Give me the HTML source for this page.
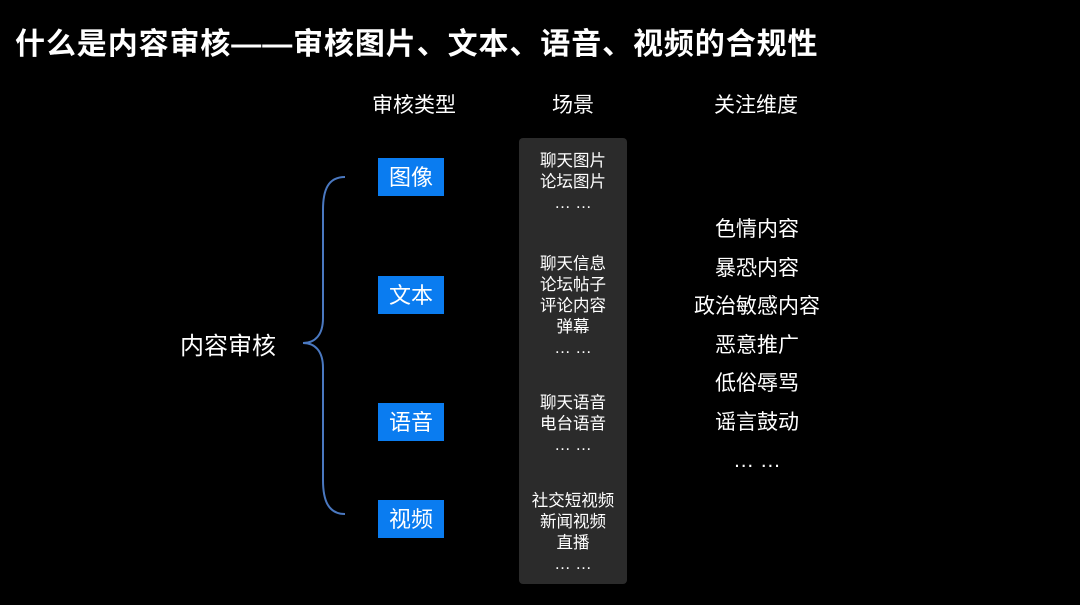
<!DOCTYPE html>
<html><head><meta charset="utf-8"><style>
body{margin:0;width:1080px;height:605px;background:#000;overflow:hidden;position:relative;font-family:"Liberation Sans","Noto Sans CJK SC",sans-serif;color:#fff}
.a{position:absolute;white-space:nowrap}
.t{left:15px;top:19px;font-size:30px;font-weight:bold;letter-spacing:0.9px}
.h{font-size:21px;top:89px}
.b{position:absolute;left:378px;width:66px;height:38px;background:#0a7cf0;font-size:22px;text-align:center;line-height:40px}
.p{position:absolute;left:519px;top:138px;width:108px;height:446px;background:#2b2b2b;border-radius:4px}
.s{position:absolute;left:519px;width:108px;text-align:center;font-size:16.5px;line-height:21px}
.r{position:absolute;left:657px;width:200px;text-align:center;font-size:21px;line-height:38.5px;top:211px}
</style></head><body>
<div class="a t">什么是内容审核——审核图片、文本、语音、视频的合规性</div>
<div class="a h" style="left:372px">审核类型</div>
<div class="a h" style="left:552px">场景</div>
<div class="a h" style="left:714px">关注维度</div>
<div class="a" style="left:180px;top:326px;font-size:24px">内容审核</div>
<svg class="a" style="left:0;top:0" width="1080" height="605"><path d="M345 177 C328 177 323 190 323 210 L323 318 C323 335 315 343 303 343 C315 343 323 351 323 368 L323 480 C323 500 328 514 345 514" fill="none" stroke="#4a78c0" stroke-width="2"/></svg>
<div class="b" style="top:158px">图像</div>
<div class="b" style="top:276px">文本</div>
<div class="b" style="top:403px">语音</div>
<div class="b" style="top:500px">视频</div>
<div class="p"></div>
<div class="s" style="top:151px">聊天图片<br>论坛图片<br>… …</div>
<div class="s" style="top:254px">聊天信息<br>论坛帖子<br>评论内容<br>弹幕<br>… …</div>
<div class="s" style="top:393px">聊天语音<br>电台语音<br>… …</div>
<div class="s" style="top:491px">社交短视频<br>新闻视频<br>直播<br>… …</div>
<div class="r">色情内容<br>暴恐内容<br>政治敏感内容<br>恶意推广<br>低俗辱骂<br>谣言鼓动<br>… …</div>
</body></html>
